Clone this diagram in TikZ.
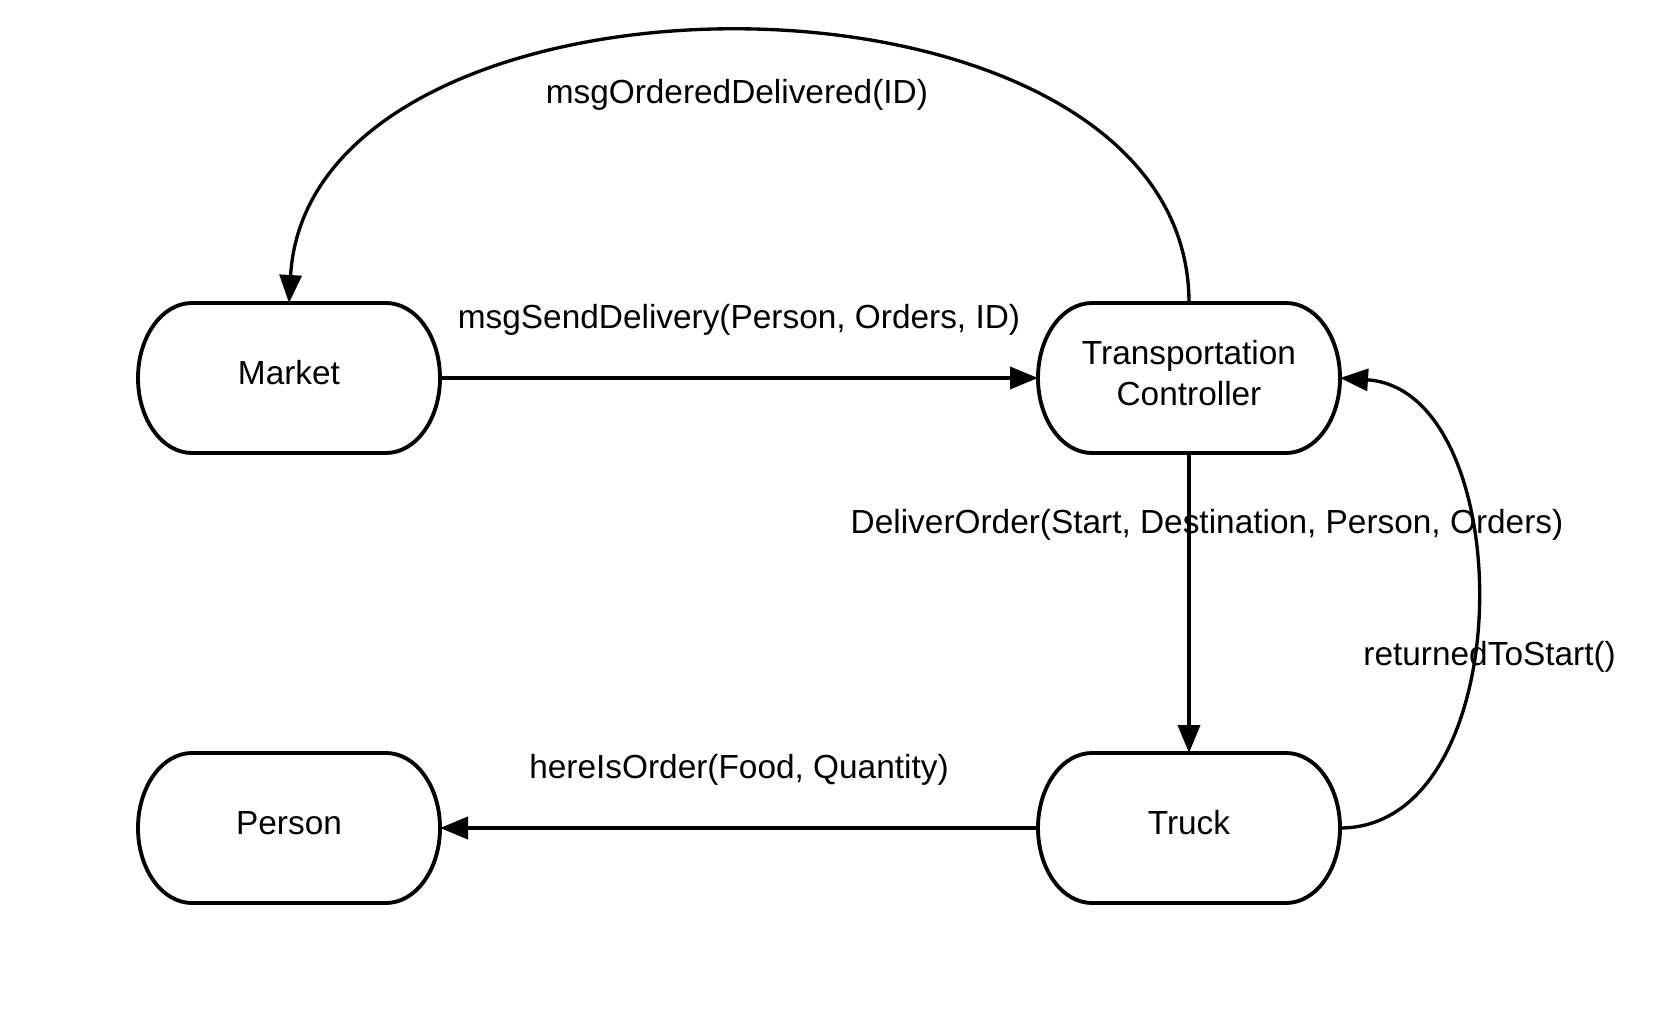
\documentclass[tikz,border=0pt]{standalone}
\usepackage{fontspec}
\setmainfont{Liberation Sans}
\usetikzlibrary{arrows.meta}

\tikzset{
  actor/.style={minimum width=6.04cm, minimum height=3cm, inner sep=0pt, outer sep=0pt, text depth=0.21cm, align=center},
  msg/.style={line width=2.2pt, -{Triangle[length=0.56cm,width=0.44cm]}},
  bent/.style={msg, line width=1.9pt},
}
% outline of an actor node: straight top and bottom, elliptic ends
\newcommand{\capsule}[1]{%
  \draw[line width=2.2pt] (#1.west)
    arc[start angle=180, end angle=90, x radius=1.08cm, y radius=1.5cm]
    -- ([xshift=-1.08cm]#1.north east)
    arc[start angle=90, end angle=-90, x radius=1.08cm, y radius=1.5cm]
    -- ([xshift=1.08cm]#1.south west)
    arc[start angle=270, end angle=180, x radius=1.08cm, y radius=1.5cm] -- cycle;}

\begin{document}
\begin{tikzpicture}[font=\fontsize{19}{23.3}\selectfont]
\useasboundingbox (0,0) rectangle (33.22,20.22);

\node[actor] (market) at (5.78,12.66) {Market};
\node[actor] (ctrl) at (23.78,12.66) {Transportation\\Controller};
\node[actor] (person) at (5.78,3.66) {Person};
\node[actor] (truck) at (23.78,3.66) {Truck};
\foreach \n in {market,ctrl,person,truck} {\capsule{\n}}

\draw[msg] (market) -- node[midway, yshift=1.16cm] {msgSendDelivery(Person, Orders, ID)} (ctrl);
\draw[bent] (ctrl.north) .. controls +(0,7.22) and +(0.42,7.22) .. node[pos=0.5, xshift=-0.2cm, yshift=-1.26cm] {msgOrderedDelivered(ID)} (market.north);
\draw[msg] (ctrl) -- node[pos=0.24, xshift=0.36cm] {DeliverOrder(Start, Destination, Person, Orders)} (truck);
\draw[bent] (truck.east) .. controls +(3.64,0) and +(3.62,-0.24) .. node[pos=0.425, xshift=0.33cm] {returnedToStart()} (ctrl.east);
\draw[msg] (truck) -- node[midway, yshift=1.17cm] {hereIsOrder(Food, Quantity)} (person);
\end{tikzpicture}
\end{document}
